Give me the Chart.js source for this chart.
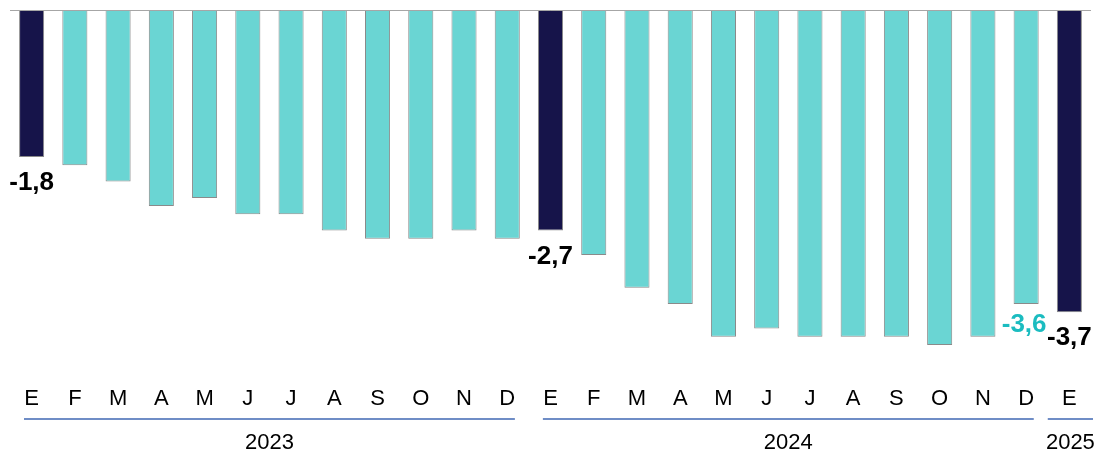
<!DOCTYPE html>
<html>
<head>
    <title>Monthly balance</title>
    <style>
        html, body{
            margin: 0;
            padding: 0;
            background: white;
        }
        #wrap{
            width: 1103px;
            height: 454px;
        }
    </style>
</head>
<body>
<div id="wrap"><canvas id="balance"></canvas></div>

<script src="https://cdn.jsdelivr.net/npm/chart.js@4.4.1/dist/chart.umd.min.js"></script>
<script>
    // month letters, one per bar
    const months = ["E","F","M","A","M","J","J","A","S","O","N","D",
                    "E","F","M","A","M","J","J","A","S","O","N","D",
                    "E"];
    const values = [-1.8, -1.9, -2.1, -2.4, -2.3, -2.5, -2.5, -2.7, -2.8, -2.8, -2.7, -2.8,
                    -2.7, -3.0, -3.4, -3.6, -4.0, -3.9, -4.0, -4.0, -4.0, -4.1, -4.0, -3.6,
                    -3.7];
    // year groups: first and last bar index
    const years = ["2023", "2024", "2025"];
    const yearStart = [0, 12, 24];
    const yearEnd = [11, 23, 24];
    // bars that get a value label
    const labelled = [0, 12, 23, 24];

    const navy = "#16144a";
    const teal = "#6ad5d3";
    const barColors = values.map((v, i) => (i % 12 === 0) ? navy : teal);

    function fmt(v){
        return v.toFixed(1).replace(".", ",");
    }

    const extras = {
        id: "extras",
        afterDatasetsDraw(chart){
            const ctx = chart.ctx;
            const x = chart.scales.x;
            const y = chart.scales.y;
            const area = chart.chartArea;

            // zero line
            ctx.save();
            ctx.strokeStyle = "#a6a6a6";
            ctx.lineWidth = 1;
            ctx.beginPath();
            ctx.moveTo(area.left, Math.round(y.getPixelForValue(0)) + 0.5);
            ctx.lineTo(area.right, Math.round(y.getPixelForValue(0)) + 0.5);
            ctx.stroke();

            // value labels
            const meta = chart.getDatasetMeta(0);
            ctx.font = "bold 26px 'Liberation Sans', Arial, sans-serif";
            ctx.textAlign = "center";
            ctx.textBaseline = "middle";
            labelled.forEach(i => {
                const bar = meta.data[i];
                let off = 26, dx = 0;
                ctx.fillStyle = "#000";
                if (barColors[i] === teal) {
                    ctx.fillStyle = "#1bbcc0";
                    off = 21;
                    dx = -2;
                }
                ctx.fillText(fmt(values[i]), bar.x + dx, bar.y + off);
            });

            // year brackets
            const step = x.getPixelForValue(1) - x.getPixelForValue(0);
            ctx.strokeStyle = "#3f67b3";
            ctx.lineWidth = 1.5;
            ctx.fillStyle = "#000";
            ctx.font = "22px 'Liberation Sans', Arial, sans-serif";
            const lineY = 419;
            years.forEach((yr, k) => {
                let l = x.getPixelForValue(yearStart[k]) - step / 2 + 14;
                let r = x.getPixelForValue(yearEnd[k]) + step / 2 - 14;
                if (yearStart[k] === yearEnd[k]) {
                    l = x.getPixelForValue(yearStart[k]) - step / 2;
                    r = Math.min(chart.width - 10, x.getPixelForValue(yearStart[k]) + step / 2 + 2);
                }
                ctx.beginPath();
                ctx.moveTo(l, lineY);
                ctx.lineTo(r, lineY);
                ctx.stroke();
                ctx.fillText(yr, (l + r) / 2, 443);
            });
            ctx.restore();
        }
    };

    new Chart("balance", {
        type: "bar",
        data: {
            labels: months,
            datasets: [{
                data: values,
                backgroundColor: barColors,
                borderColor: "#8a8a8a",
                borderWidth: 1,
                borderSkipped: false,
                barPercentage: 0.58,
                categoryPercentage: 1
            }]
        },
        options: {
            responsive: true,
            maintainAspectRatio: false,
            animation: false,
            layout: {
                padding: { left: 10, right: 12, top: 10, bottom: 34 }
            },
            plugins: {
                legend: { display: false },
                tooltip: { enabled: false }
            },
            scales: {
                x: {
                    grid: { display: false, drawTicks: false },
                    border: { display: false },
                    ticks: {
                        color: "#000",
                        padding: 8,
                        maxRotation: 0,
                        autoSkip: false,
                        font: { family: "'Liberation Sans', Arial, sans-serif", size: 22 }
                    }
                },
                y: {
                    display: false,
                    min: -4.5,
                    max: 0
                }
            }
        },
        plugins: [extras]
    });
</script>
</body>
</html>
